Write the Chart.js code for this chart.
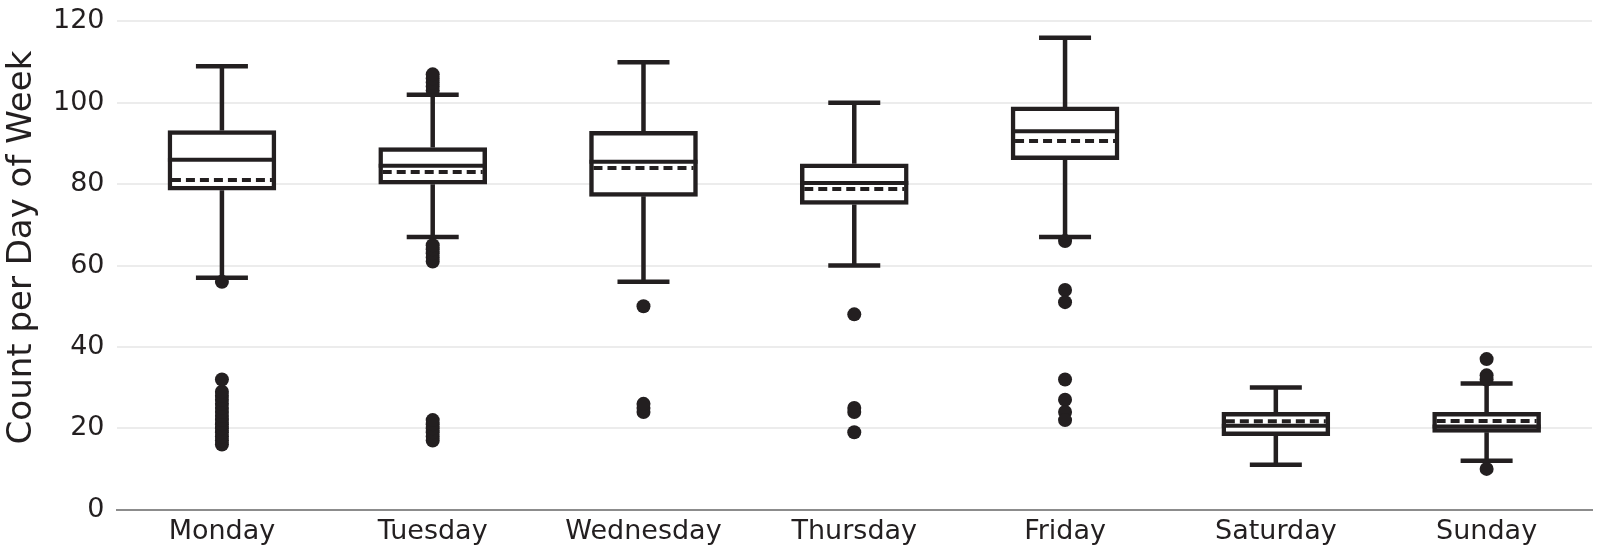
<!DOCTYPE html>
<html>
<head>
<meta charset="utf-8">
<title>Count per Day of Week</title>
<script src="https://cdn.jsdelivr.net/npm/chart.js@4/dist/chart.umd.min.js"></script>
<style>
  body { margin: 0; background: #fff; }
  #wrap { width: 1599px; height: 548px; }
</style>
</head>
<body>
<div id="wrap"><canvas id="boxChart"></canvas></div>
<script>
// categories
const days = ['Monday', 'Tuesday', 'Wednesday', 'Thursday', 'Friday', 'Saturday', 'Sunday'];

// box plot stats
const whiskerLow  = [57, 67, 56, 60, 67, 11, 12];
const q1          = [78.5, 80, 77, 75, 86, 18.2, 19];
const median      = [86, 84.5, 85.5, 80.3, 93, 20.6, 20.4];
const mean        = [81, 83, 84, 78.8, 90.6, 21.7, 21.8];
const q3          = [93.2, 89, 93, 85, 99, 23.9, 23.9];
const whiskerHigh = [109, 102, 110, 100, 116, 30, 31];

// outliers per day
const outliers = [
    [56, 16, 17, 18, 19, 20, 21, 22, 23, 24, 25, 26, 27, 28, 29, 32],
    [103, 104, 105, 106, 107, 61, 62, 63, 64, 65, 17, 18, 19, 20, 21, 22],
    [50, 24, 25, 26],
    [48, 25, 24, 19],
    [66, 54, 51, 32, 27, 24, 22],
    [],
    [37, 33, 32, 10]
];

const yTicks = [0, 20, 40, 60, 80, 100, 120];
const yTitle = 'Count per Day of Week';

const ink = '#231f20';

// build the chart data from the arrays above
const boxData = days.map((d, i) => [q1[i], q3[i]]);
const outlierPoints = [];
days.forEach(function (d, i) {
    outliers[i].forEach(function (v) {
        outlierPoints.push({ x: d, y: v });
    });
});

// whiskers go under the boxes and dots, median + mean go on top
const boxLines = {
    id: 'boxLines',
    beforeDatasetsDraw(chart) {
        const ctx = chart.ctx;
        const xs = chart.scales.x, ys = chart.scales.y;
        ctx.save();
        ctx.strokeStyle = ink;
        ctx.lineWidth = 4.5;
        days.forEach(function (d, i) {
            const x = xs.getPixelForValue(i);
            const capHalf = 26;
            [[q3[i], whiskerHigh[i]], [q1[i], whiskerLow[i]]].forEach(function (pair) {
                const yA = ys.getPixelForValue(pair[0]);
                const yB = ys.getPixelForValue(pair[1]);
                ctx.beginPath();
                ctx.moveTo(x, yA);
                ctx.lineTo(x, yB);
                ctx.moveTo(x - capHalf, yB);
                ctx.lineTo(x + capHalf, yB);
                ctx.stroke();
            });
        });
        ctx.restore();
    },
    afterDatasetsDraw(chart) {
        const ctx = chart.ctx;
        const xs = chart.scales.x, ys = chart.scales.y;
        const half = 54;
        ctx.save();
        ctx.strokeStyle = ink;
        ctx.lineWidth = 4;
        days.forEach(function (d, i) {
            const x = xs.getPixelForValue(i);
            const ym = ys.getPixelForValue(median[i]);
            ctx.setLineDash([]);
            ctx.beginPath();
            ctx.moveTo(x - half, ym);
            ctx.lineTo(x + half, ym);
            ctx.stroke();

            const ya = ys.getPixelForValue(mean[i]);
            ctx.setLineDash([9, 5]);
            ctx.beginPath();
            ctx.moveTo(x - half + 4, ya);
            ctx.lineTo(x + half - 4, ya);
            ctx.stroke();
        });
        ctx.restore();
    }
};

// y axis title, sits a bit above the middle of the plot like the original
const sideTitle = {
    id: 'sideTitle',
    afterDraw(chart) {
        const ctx = chart.ctx;
        const area = chart.chartArea;
        ctx.save();
        ctx.translate(22, (area.top + area.bottom) / 2 - 18);
        ctx.rotate(-Math.PI / 2);
        ctx.fillStyle = ink;
        ctx.font = '34px "DejaVu Sans"';
        ctx.textAlign = 'center';
        ctx.textBaseline = 'middle';
        ctx.fillText(yTitle, 0, 0);
        ctx.restore();
    }
};

new Chart(document.getElementById('boxChart'), {
    type: 'bar',
    data: {
        labels: days,
        datasets: [
            {
                label: 'Box',
                data: boxData,
                backgroundColor: '#ffffff',
                borderColor: ink,
                borderWidth: 4.5,
                borderSkipped: false,
                barThickness: 108,
                order: 2
            },
            {
                type: 'line',
                label: 'Outliers',
                data: outlierPoints,
                showLine: false,
                pointRadius: 7,
                pointHoverRadius: 7,
                pointBackgroundColor: ink,
                pointBorderWidth: 0,
                order: 1
            }
        ]
    },
    options: {
        responsive: true,
        maintainAspectRatio: false,
        animation: false,
        layout: { padding: { top: 0, right: 4, bottom: -6, left: 41 } },
        plugins: {
            legend: { display: false },
            tooltip: { enabled: false }
        },
        scales: {
            x: {
                grid: { display: false, drawTicks: false },
                border: { display: true, color: '#8c8c8c', width: 2 },
                ticks: {
                    color: ink,
                    padding: 6,
                    font: { family: 'DejaVu Sans', size: 27 }
                }
            },
            y: {
                min: 0,
                max: 120,
                afterBuildTicks: function (scale) {
                    scale.ticks = yTicks.map(v => ({ value: v }));
                },
                grid: { color: '#ececec', lineWidth: 2, drawTicks: false },
                border: { display: false },
                ticks: {
                    color: ink,
                    padding: 12,
                    font: { family: 'DejaVu Sans', size: 27, lineHeight: 0.7 }
                }
            }
        }
    },
    plugins: [boxLines, sideTitle]
});
</script>
</body>
</html>
